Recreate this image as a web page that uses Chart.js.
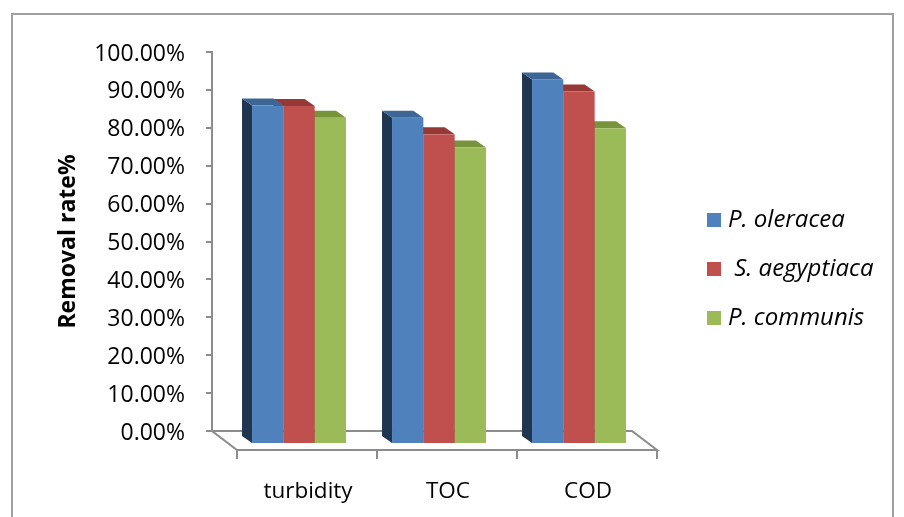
<!DOCTYPE html>
<html>
<head>
<meta charset="utf-8">
<script src="https://cdn.jsdelivr.net/npm/chart.js@4.4.1/dist/chart.umd.min.js"></script>
<style>
  html, body { margin: 0; padding: 0; background: #ffffff; }
  #wrap { width: 904px; height: 517px; position: relative; }
</style>
</head>
<body>
<div id="wrap"><canvas id="c" width="904" height="517"></canvas></div>
<script>
// Removal rates by parameter and plant coagulant
const categories = ['turbidity', 'TOC', 'COD'];
const seriesNames = ['P. oleracea', ' S. aegyptiaca', 'P. communis'];
const oleracea   = [0.893, 0.861, 0.962];
const aegyptiaca = [0.892, 0.817, 0.930];
const communis   = [0.861, 0.782, 0.833];

// face colours: front, top, left side
const frontColors = ['#4F81BD', '#C0504D', '#9BBB59'];
const topColors   = ['#3D6697', '#953836', '#77933C'];
const sideColors  = ['#1F3550', '#632523', '#4F6228'];

// oblique projection: bar front plane sits in front of the back wall,
// depth runs up-left
const FRONT_DX = 17, FRONT_DY = 13;
const DEPTH_DX = 10, DEPTH_DY = 7;
const FLOOR_DX = 25, FLOOR_DY = 19;
const AXIS_GREY = '#8C8C8C';

Chart.defaults.font.family = "'Open Sans', 'Noto Sans', sans-serif";
Chart.defaults.color = '#000000';

const frame = {
  id: 'frame',
  beforeDraw(chart) {
    const ctx = chart.ctx;
    ctx.save();
    ctx.fillStyle = '#ffffff';
    ctx.fillRect(0, 0, chart.width, chart.height);
    ctx.strokeStyle = '#A0A0A0';
    ctx.lineWidth = 2;
    ctx.strokeRect(12, 14, 881, 560);
    ctx.restore();
  }
};

const floor3d = {
  id: 'floor3d',
  beforeDatasetsDraw(chart) {
    const { ctx, chartArea } = chart;
    const xs = chart.scales.x;
    const l = chartArea.left, r = chartArea.right, b = chartArea.bottom;
    ctx.save();
    ctx.strokeStyle = AXIS_GREY;
    ctx.lineWidth = 2;
    ctx.lineJoin = 'miter';
    ctx.beginPath();
    ctx.moveTo(l, b);
    ctx.lineTo(r, b);
    ctx.lineTo(r + FLOOR_DX, b + FLOOR_DY);
    ctx.lineTo(l + FLOOR_DX, b + FLOOR_DY);
    ctx.closePath();
    ctx.stroke();
    // category boundary ticks along the front edge
    const n = xs.ticks.length;
    const step = (r - l) / n;
    ctx.beginPath();
    for (let i = 0; i <= n; i++) {
      const tx = l + i * step + FLOOR_DX;
      ctx.moveTo(tx, b + FLOOR_DY);
      ctx.lineTo(tx, b + FLOOR_DY + 9);
    }
    ctx.stroke();
    ctx.restore();
  }
};

const bars3d = {
  id: 'bars3d',
  beforeDatasetDraw() {
    return false; // flat bars replaced by prisms below
  },
  afterDatasetsDraw(chart) {
    const ctx = chart.ctx;
    ctx.save();
    for (let d = chart.data.datasets.length - 1; d >= 0; d--) {
      const meta = chart.getDatasetMeta(d);
      meta.data.forEach((bar) => {
        const p = bar.getProps(['x', 'y', 'base', 'width'], true);
        const xl = p.x - p.width / 2 + FRONT_DX;
        const xr = p.x + p.width / 2 + FRONT_DX;
        const yt = p.y + FRONT_DY;
        const yb = p.base + FRONT_DY;
        // left side face
        ctx.fillStyle = sideColors[d];
        ctx.beginPath();
        ctx.moveTo(xl, yt);
        ctx.lineTo(xl - DEPTH_DX, yt - DEPTH_DY);
        ctx.lineTo(xl - DEPTH_DX, yb - DEPTH_DY);
        ctx.lineTo(xl, yb);
        ctx.closePath();
        ctx.fill();
        // top face
        ctx.fillStyle = topColors[d];
        ctx.beginPath();
        ctx.moveTo(xl, yt);
        ctx.lineTo(xr, yt);
        ctx.lineTo(xr - DEPTH_DX, yt - DEPTH_DY);
        ctx.lineTo(xl - DEPTH_DX, yt - DEPTH_DY);
        ctx.closePath();
        ctx.fill();
        // front face
        ctx.fillStyle = frontColors[d];
        ctx.fillRect(xl, yt, xr - xl, yb - yt);
      });
    }
    ctx.restore();
  }
};

const sideLegend = {
  id: 'sideLegend',
  afterDraw(chart) {
    const ctx = chart.ctx;
    const rows = [220, 269, 318];
    ctx.save();
    ctx.font = "italic 24px 'Open Sans', 'Noto Sans', sans-serif";
    ctx.textBaseline = 'middle';
    ctx.textAlign = 'left';
    chart.data.datasets.forEach((ds, i) => {
      ctx.fillStyle = frontColors[i];
      ctx.fillRect(707, rows[i] - 7, 14, 14);
      ctx.fillStyle = '#000000';
      ctx.fillText(ds.label, 728, rows[i]);
    });
    ctx.restore();
  }
};

new Chart(document.getElementById('c'), {
  type: 'bar',
  data: {
    labels: categories,
    datasets: [
      { label: seriesNames[0], data: oleracea,   backgroundColor: frontColors[0] },
      { label: seriesNames[1], data: aegyptiaca, backgroundColor: frontColors[1] },
      { label: seriesNames[2], data: communis,   backgroundColor: frontColors[2] }
    ]
  },
  options: {
    responsive: false,
    animation: false,
    devicePixelRatio: 1,
    layout: { padding: { top: 52, right: 272, bottom: 0, left: 0 } },
    datasets: { bar: { categoryPercentage: 0.671, barPercentage: 1.0 } },
    plugins: {
      legend: { display: false },
      tooltip: { enabled: false }
    },
    scales: {
      x: {
        grid: { display: false },
        border: { display: false },
        ticks: {
          font: { size: 22.5 },
          color: '#000000',
          padding: 39,
          labelOffset: 26,
          maxRotation: 0
        },
        afterFit(scale) { scale.height = 86; }
      },
      y: {
        min: 0,
        max: 1,
        border: { display: true, color: AXIS_GREY, width: 2 },
        grid: { drawOnChartArea: false, drawTicks: true, tickLength: 6, color: AXIS_GREY, lineWidth: 2 },
        ticks: {
          stepSize: 0.1,
          padding: 21,
          labelOffset: 2,
          font: { size: 23 },
          color: '#000000',
          callback: (v) => (v * 100).toFixed(2) + '%'
        },
        title: {
          display: true,
          text: 'Removal rate%',
          font: { size: 23, weight: 'bold' },
          color: '#000000',
          padding: { top: 55, bottom: 0 }
        },
        afterFit(scale) { scale.width = 212; }
      }
    }
  },
  plugins: [frame, floor3d, bars3d, sideLegend]
});
</script>
</body>
</html>
